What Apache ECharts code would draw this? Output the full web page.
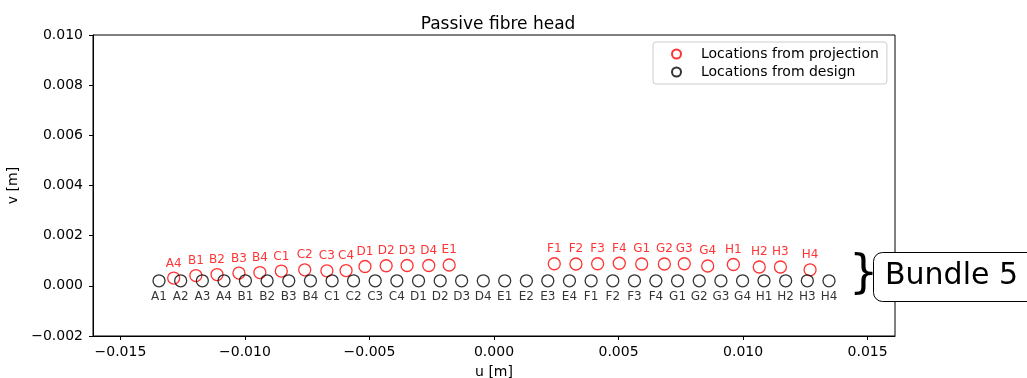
<!DOCTYPE html>
<html>
<head>
<meta charset="utf-8">
<script src="https://cdn.jsdelivr.net/npm/echarts@6/dist/echarts.min.js"></script>
<style>
  html, body { margin: 0; padding: 0; background: #fff; }
  #chart { width: 1027px; height: 378px; }
</style>
</head>
<body>
<div id="chart"></div>
<script>
// fibre names
const fibreNames = ['A1','A2','A3','A4','B1','B2','B3','B4','C1','C2','C3','C4','D1','D2','D3','D4',
  'E1','E2','E3','E4','F1','F2','F3','F4','G1','G2','G3','G4','H1','H2','H3','H4']

// locations from design
const designU = [-0.01345, -0.01258, -0.01171, -0.01084, -0.00998, -0.00911, -0.00824, -0.00737,
  -0.00650, -0.00564, -0.00477, -0.00390, -0.00303, -0.00216, -0.00130, -0.00043,
  0.00043, 0.00130, 0.00216, 0.00303, 0.00390, 0.00477, 0.00564, 0.00650,
  0.00737, 0.00824, 0.00911, 0.00998, 0.01084, 0.01171, 0.01258, 0.01345]
const designV = [0.0002, 0.0002, 0.0002, 0.0002, 0.0002, 0.0002, 0.0002, 0.0002,
  0.0002, 0.0002, 0.0002, 0.0002, 0.0002, 0.0002, 0.0002, 0.0002,
  0.0002, 0.0002, 0.0002, 0.0002, 0.0002, 0.0002, 0.0002, 0.0002,
  0.0002, 0.0002, 0.0002, 0.0002, 0.0002, 0.0002, 0.0002, 0.0002]

// locations from projection
const projNames = ['A4','B1','B2','B3','B4','C1','C2','C3','C4','D1','D2','D3','D4','E1',
  'F1','F2','F3','F4','G1','G2','G3','G4','H1','H2','H3','H4']
const projU = [-0.01286, -0.01197, -0.01112, -0.01024, -0.00940, -0.00854, -0.00760, -0.00671,
  -0.00594, -0.00518, -0.00433, -0.00349, -0.00262, -0.00180,
  0.00242, 0.00329, 0.00416, 0.00503, 0.00593, 0.00684, 0.00764, 0.00858,
  0.00961, 0.01065, 0.01150, 0.01269]
const projV = [0.00031, 0.00041, 0.00045, 0.00051, 0.00053, 0.00059, 0.00064, 0.00060,
  0.00061, 0.00077, 0.00080, 0.00081, 0.00081, 0.00083,
  0.00088, 0.00087, 0.00088, 0.00090, 0.00087, 0.00087, 0.00088, 0.00079,
  0.00085, 0.00075, 0.00075, 0.00064]

const uTicks = [-0.015, -0.010, -0.005, 0.000, 0.005, 0.010, 0.015]

const font = 'DejaVu Sans'
const fmt = (v) => {
  let s = Math.abs(v).toFixed(3)
  return (v < -1e-9 ? '\u2212' : '') + s
}

var myChart = echarts.init(document.getElementById('chart'))
var option = {
  animation: false,
  textStyle: { fontFamily: font },
  title: {
    text: 'Passive fibre head',
    left: 493, top: 11, textAlign: 'center',
    textStyle: { fontFamily: font, fontSize: 17, fontWeight: 'normal', color: '#000' },
  },
  grid: {
    left: 93, right: 132, top: 35, bottom: 42,
    outerBoundsMode: 'none',
    containLabel: false,
    show: true, borderColor: '#000', borderWidth: 1,
  },
  legend: {
    orient: 'vertical',
    left: 653, top: 42,
    padding: [5, 8, 5, 18],
    itemGap: 4,
    itemWidth: 9, itemHeight: 9,
    borderColor: '#ccc', borderWidth: 1, borderRadius: 3,
    textStyle: { fontFamily: font, fontSize: 14, color: '#000', padding: [0, 0, 0, 15] },
    data: ['Locations from projection', 'Locations from design'],
  },
  xAxis: {
    type: 'value',
    min: -0.0161, max: 0.0161,
    name: 'u [m]', nameLocation: 'middle', nameGap: 29,
    nameTextStyle: { fontFamily: font, fontSize: 14, color: '#000' },
    splitLine: { show: false },
    axisLine: { show: true, onZero: false, lineStyle: { color: '#000' } },
    axisTick: { show: true, length: 4, customValues: uTicks, lineStyle: { color: '#000' } },
    axisLabel: { customValues: uTicks, formatter: fmt, fontFamily: font, fontSize: 14, color: '#000', margin: 9 },
  },
  yAxis: {
    type: 'value',
    min: -0.002, max: 0.010, interval: 0.002,
    name: 'v [m]', nameLocation: 'middle', nameGap: 66,
    nameTextStyle: { fontFamily: font, fontSize: 14, color: '#000' },
    splitLine: { show: false },
    axisLine: { show: true, onZero: false, lineStyle: { color: '#000' } },
    axisTick: { show: true, length: 4, lineStyle: { color: '#000' } },
    axisLabel: { formatter: fmt, fontFamily: font, fontSize: 14, color: '#000', margin: 10 },
  },
  series: [
    {
      name: 'Locations from projection',
      type: 'scatter',
      symbol: 'circle', symbolSize: 12,
      itemStyle: { color: 'rgba(255,255,255,0)', borderColor: '#ff0000', borderWidth: 1.3 },
      label: {
        show: true, position: 'top', distance: 2,
        formatter: (p) => p.data[2],
        color: '#ff0000', fontFamily: font, fontSize: 12,
      },
      data: projU.map((u, i) => [u, projV[i], projNames[i]]),
    },
    {
      name: 'Locations from design',
      type: 'scatter',
      symbol: 'circle', symbolSize: 12,
      itemStyle: { color: 'rgba(255,255,255,0)', borderColor: '#000', borderWidth: 1.3 },
      label: {
        show: true, position: 'bottom', distance: 3,
        formatter: (p) => p.data[2],
        color: '#000', fontFamily: font, fontSize: 12,
      },
      data: designU.map((u, i) => [u, designV[i], fibreNames[i]]),
    },
  ],
  graphic: [
    {
      type: 'text', x: 849, y: 275,
      style: { text: '}', fontFamily: font, fontSize: 46, fill: '#000', verticalAlign: 'middle' },
    },
    {
      type: 'rect', shape: { x: 873.5, y: 252.5, width: 170, height: 49, r: 9 },
      style: { fill: '#fff', stroke: '#000', lineWidth: 1 },
    },
    {
      type: 'text', x: 885, y: 276,
      style: { text: 'Bundle 5', fontFamily: font, fontSize: 30, fill: '#000', verticalAlign: 'middle' },
    },
  ],
}
myChart.setOption(option)
</script>
</body>
</html>
